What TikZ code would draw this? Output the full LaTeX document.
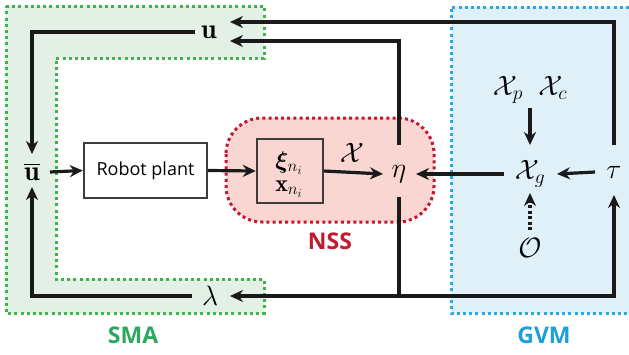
\RequirePackage{fix-cm}
\documentclass[tikz,border=0pt]{standalone}
\usepackage{amsmath}
\usepackage{bm}
\usepackage{fontspec}
\setsansfont{Open Sans}
\usetikzlibrary{arrows.meta,calc}
\definecolor{smafill}{HTML}{E2F0E6}
\definecolor{smaline}{HTML}{3DB54A}
\definecolor{smatext}{HTML}{2BA85E}
\definecolor{nssfill}{HTML}{FAD6D3}
\definecolor{nssline}{HTML}{C4172C}
\definecolor{nsstext}{HTML}{C21A2E}
\definecolor{gvmfill}{HTML}{E0F0F9}
\definecolor{gvmline}{HTML}{2AA9E0}
\definecolor{gvmtext}{HTML}{1BA0DC}
\definecolor{ink}{HTML}{1A1A1A}
\tikzset{
  arr/.style={-{Stealth[length=13pt,width=12pt]}, line width=3.2pt, draw=ink},
  dotarr/.style={-{Stealth[length=13pt,width=12pt]}, line width=3.2pt, draw=ink, dash pattern=on 3pt off 2.5pt},
  ln/.style={line width=3.2pt, draw=ink},
  mnode/.style={inner sep=0pt, font=\fontsize{28}{30}\selectfont},
  snode/.style={inner sep=0pt, font=\fontsize{24}{26}\selectfont},
  blockbox/.style={draw=ink!85, line width=2.4pt, inner sep=0pt},
  region/.style={line width=3pt, dash pattern=on 3pt off 3.2pt},
  regionlabel/.style={font=\sffamily\bfseries\fontsize{23}{26}\selectfont}
}
\begin{document}
\begin{tikzpicture}[x=1pt,y=-1pt]
\useasboundingbox (0,0) rectangle (629,354);
% regions
\path[fill=smafill] (6,6) -- (264,6) -- (264,58) -- (56,58) -- (56,279) -- (264,279) -- (264,313) -- (6,313) -- cycle;
\draw[region, draw=smaline] (6,6) -- (264,6) -- (264,58) -- (56,58) -- (56,279) -- (264,279) -- (264,313) -- (6,313) -- cycle;
\path[fill=gvmfill] (451,7) rectangle (629,313);
\draw[region, draw=gvmline] (629,7) -- (451,7) -- (451,313) -- (629,313);
\draw[region, draw=nssline, fill=nssfill, rounded corners=36pt] (226,118) rectangle (434,222);
\node[regionlabel, text=smatext] (sma) at (133,335) {SMA};
\node[regionlabel, text=nsstext] (nss) at (330,241) {NSS};
\node[regionlabel, text=gvmtext] (gvm) at (544,335) {GVM};
% nodes
\node[mnode] (u) at (209,32) {$\mathbf{u}$};
\node[mnode] (ub) at (32,172) {$\overline{\mathbf{u}}$};
\node[blockbox, fill=white, minimum width=123pt, minimum height=55pt, font=\sffamily\fontsize{18}{20}\selectfont] (rp) at (145.5,170.5) {Robot plant};
\node[blockbox, fill=nssfill, minimum width=66pt, minimum height=64pt] (xi) at (290,171) {};
\node[snode] (xia) at (289,163) {$\bm{\xi}_{n_i}$};
\node[snode] (xib) at (289,189) {$\mathbf{x}_{n_i}$};
\node[mnode] (X) at (352,153) {$\mathcal{X}$};
\node[mnode] (eta) at (399,174) {$\eta$};
\node[mnode] (Xg) at (530,174) {$\mathcal{X}_g$};
\node[mnode] (Xpc) at (530,90) {$\mathcal{X}_p\;\;\mathcal{X}_c$};
\node[mnode] (tau) at (614,172) {$\tau$};
\node[mnode] (O) at (530,248) {$\mathcal{O}$};
\node[mnode] (lam) at (210,296) {$\lambda$};
\coordinate (j) at (399,296);
% connectors
\draw[arr] ([xshift=-14pt]u.center) -| ([yshift=18pt]ub.center);
\draw[arr] ([xshift=-18pt]lam.center) -| ([yshift=-15pt]ub.center);
\draw[arr] ([xshift=18pt]ub.center) -- (rp.west);
\draw[arr] (rp.east) -- (xi.west);
\draw[arr] (xi.east) -- ([xshift=-16pt]eta.center);
\draw[arr] ([xshift=-26pt]Xg.center) -- ([xshift=17pt]eta.center);
\draw[arr] ([xshift=-19pt]tau.center) -- ([xshift=27pt]Xg.center);
\draw[arr] ([yshift=-18pt]Xpc.center) -- ([yshift=29pt]Xg.center);
\draw[dotarr] ([yshift=18pt]O.center) -- ([yshift=-19pt]Xg.center);
\draw[arr] ([yshift=29pt]eta.center) |- ([xshift=21pt,yshift=-9pt]u.center);
\draw[arr] ([yshift=27pt]tau.center) |- ([xshift=21pt,yshift=10pt]u.center);
\draw[ln] ([yshift=-23pt]eta.center) -- (j);
\draw[arr] (j) -- ([xshift=20pt]lam.center);
\draw[arr] (j) -| ([yshift=-23pt]tau.center);
\end{tikzpicture}
\end{document}
